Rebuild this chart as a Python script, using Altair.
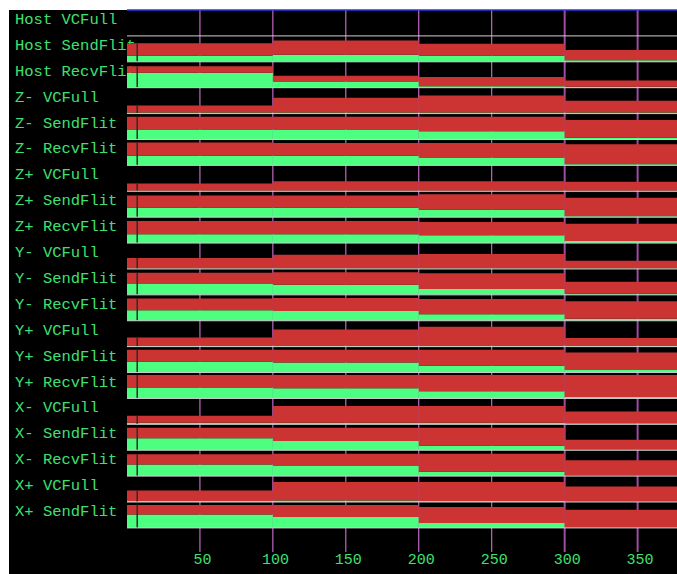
import altair as alt
import pandas as pd

# ---------------- data ----------------
rows = [
    "Host VCFull", "Host SendFlit", "Host RecvFlit",
    "Z- VCFull", "Z- SendFlit", "Z- RecvFlit",
    "Z+ VCFull", "Z+ SendFlit", "Z+ RecvFlit",
    "Y- VCFull", "Y- SendFlit", "Y- RecvFlit",
    "Y+ VCFull", "Y+ SendFlit", "Y+ RecvFlit",
    "X- VCFull", "X- SendFlit", "X- RecvFlit",
    "X+ VCFull", "X+ SendFlit",
]
period_start = [0, 100, 200, 300]
period_end = [100, 200, 300, 377]
x_ticks = [50, 100, 150, 200, 250, 300, 350]
warmup_end = 7

# green (lower) part, % of row height, per period
green_0_100   = [0, 23, 58, 4, 39, 37, 2, 36, 34, 2, 42, 41, 4, 42, 42, 6, 46, 45, 4, 52]
green_100_200 = [0, 27, 24, 4, 39, 37, 2, 36, 34, 2, 39, 38, 4, 39, 39, 6, 36, 39, 6, 42]
green_200_300 = [0, 23, 6, 4, 32, 30, 2, 29, 30, 2, 23, 25, 4, 26, 28, 6, 17, 17, 4, 19]
green_300_377 = [0, 6, 4, 4, 7, 4, 2, 4, 8, 2, 4, 8, 4, 10, 6, 4, 1, 1, 0, 0]
# red (upper, stacked) part, % of row height, per period
red_0_100   = [0, 49, 25, 27, 49, 51, 28, 48, 51, 40, 43, 45, 31, 46, 48, 27, 41, 39, 40, 36]
red_100_200 = [0, 55, 22, 57, 49, 49, 37, 48, 51, 53, 48, 50, 62, 49, 51, 65, 51, 47, 71, 46]
red_200_300 = [0, 47, 35, 66, 56, 56, 37, 59, 51, 56, 60, 59, 73, 62, 62, 65, 70, 69, 73, 62]
red_300_377 = [0, 40, 24, 46, 68, 78, 35, 71, 67, 30, 47, 67, 29, 67, 84, 46, 39, 60, 60, 70]

greens = [green_0_100, green_100_200, green_200_300, green_300_377]
reds = [red_0_100, red_100_200, red_200_300, red_300_377]

# ---------------- tables ----------------
green_recs, red_recs = [], []
for i, name in enumerate(rows):
    base = i + 1
    for p in range(len(period_start)):
        g = greens[p][i] / 100.0
        r = reds[p][i] / 100.0
        green_recs.append(dict(row=name, start=period_start[p], end=period_end[p],
                               lo=base, hi=base - g))
        if r > 0:
            red_recs.append(dict(row=name, start=period_start[p], end=period_end[p],
                                 lo=base - g, hi=base - g - r))
green_df = pd.DataFrame(green_recs)
red_df = pd.DataFrame(red_recs)

label_df = pd.DataFrame({"row": rows, "pos": [i + 0.54 for i in range(len(rows))]})
base_df = pd.DataFrame({"row": rows, "base": [i + 1 for i in range(len(rows))],
                        "x0": 0, "x1": period_end[-1]})
marker_df = pd.DataFrame({
    "row": rows,
    "x": warmup_end,
    "lo": [i + 1 for i in range(len(rows))],
    "hi": [i + 1 - (green_0_100[i] + red_0_100[i]) / 100.0 for i in range(len(rows))],
})
marker_df = marker_df[marker_df["lo"] != marker_df["hi"]]
grid_df = pd.DataFrame({"tick": x_ticks})
top_df = pd.DataFrame({"x0": [0], "x1": [period_end[-1]]})

# ---------------- scales ----------------
FONT = "Liberation Mono"
TXT = "#3fe070"
xscale = alt.Scale(domain=[0, 377], range=[118, 668], nice=False, zero=False)
yscale = alt.Scale(domain=[0, 21.78], reverse=True, nice=False, zero=False)
xaxis = alt.Axis(values=x_ticks, grid=False, domain=False, ticks=False, tickSize=0,
                 labelPadding=-10.5, labelOffset=2, labelBaseline="alphabetic",
                 labelColor=TXT, labelFont=FONT, labelFontSize=15, title=None)

labels = alt.Chart(label_df).mark_text(
    align="left", baseline="alphabetic", font=FONT, fontSize=15.5, color=TXT
).encode(
    x=alt.value(6),
    y=alt.Y("pos:Q", scale=yscale, axis=None),
    text="row:N",
)

grid = alt.Chart(grid_df).mark_rule().encode(
    x=alt.X("tick:Q", scale=xscale, axis=xaxis),
    y=alt.value(0),
    y2=alt.value(542),
    color=alt.condition(alt.datum.tick >= 300, alt.value("#a04ca4"), alt.value("#e87cec")),
    strokeWidth=alt.condition(alt.datum.tick >= 300, alt.value(2), alt.value(1)),
)

green_bars = alt.Chart(green_df).mark_rect(color="#4cff80").encode(
    x=alt.X("start:Q", scale=xscale, axis=xaxis),
    x2="end:Q",
    y=alt.Y("lo:Q", scale=yscale, axis=None),
    y2="hi:Q",
)

red_bars = alt.Chart(red_df).mark_rect(color="#cc3434").encode(
    x=alt.X("start:Q", scale=xscale, axis=xaxis),
    x2="end:Q",
    y=alt.Y("lo:Q", scale=yscale, axis=None),
    y2="hi:Q",
)

marker = alt.Chart(marker_df).mark_rule(color="#2c2c2c", strokeWidth=1.5).encode(
    x=alt.X("x:Q", scale=xscale, axis=xaxis),
    y=alt.Y("lo:Q", scale=yscale, axis=None),
    y2="hi:Q",
)

baselines = alt.Chart(base_df).mark_rule(color="#cfcfcf", strokeWidth=1).encode(
    x=alt.X("x0:Q", scale=xscale, axis=xaxis),
    x2="x1:Q",
    y=alt.Y("base:Q", scale=yscale, axis=None),
)

topline = alt.Chart(top_df).mark_rule(color="#3434e8", strokeWidth=1.5).encode(
    x=alt.X("x0:Q", scale=xscale, axis=xaxis),
    x2="x1:Q",
    y=alt.value(0),
)

chart = alt.layer(labels, grid, green_bars, red_bars, marker, baselines, topline).properties(
    width=668,
    height=564,
    autosize=alt.AutoSizeParams(type="none"),
    padding={"left": 9, "top": 10, "right": 0, "bottom": 0},
    background="white",
).configure_view(fill="black", stroke="black", strokeWidth=0)

chart.save("out.html", embed_options={"renderer": "svg", "actions": False})
